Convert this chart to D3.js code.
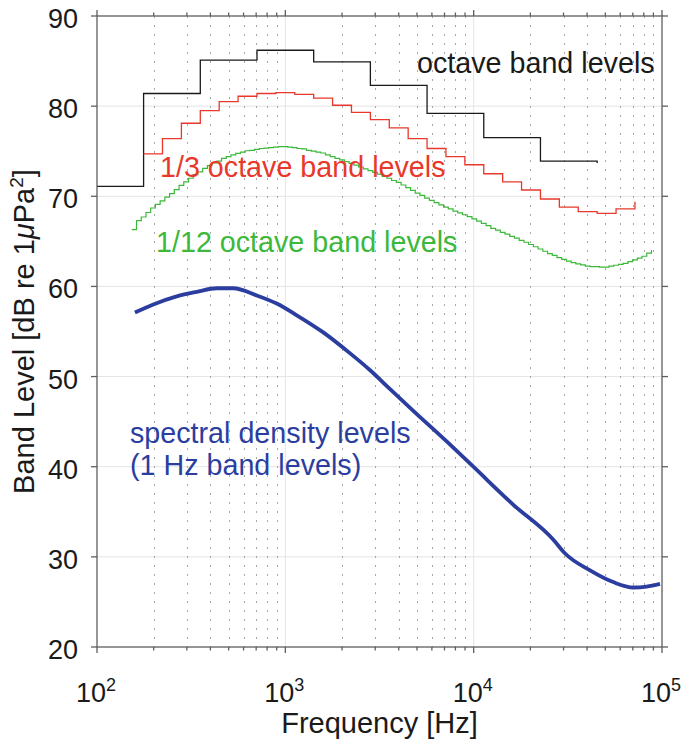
<!DOCTYPE html>
<html>
<head>
<meta charset="utf-8">
<script src="https://cdn.jsdelivr.net/npm/d3@7"></script>
<style>
  body { margin: 0; background: #fff; }
  svg { display: block; }
  text { font-family: "Liberation Sans", Arial, Helvetica, sans-serif; }
</style>
</head>
<body>
<svg id="chart" width="685" height="744"></svg>
<script>
// octave bands: nominal centre frequency (Hz) and band level (dB)
const octaveCenters = [125, 250, 500, 1000, 2000, 4000, 8000, 16000, 31500, 63000];
const octaveLevels = [71.1, 81.4, 85.1, 86.2, 84.9, 82.3, 79.2, 76.5, 73.9, 73.7];

// 1/3 octave bands
const thirdCenters = [200, 250, 315, 400, 500, 630, 800, 1000, 1250, 1600, 2000, 2500, 3150,
  4000, 5000, 6300, 8000, 10000, 12500, 16000, 20000, 25000, 31500, 40000, 50000, 63000, 80000];
const thirdLevels = [74.7, 76.4, 78.1, 79.5, 80.5, 81.1, 81.4, 81.5, 81.3, 80.9, 80.1, 79.3, 78.5,
  77.6, 76.4, 75.3, 74.4, 73.5, 72.5, 71.6, 70.7, 69.7, 68.8, 68.3, 68.1, 68.6, 69.4];

// 1/12 octave bands, numbered from 1 kHz (band -32 is the first one)
const twelfthFirstBand = -32;
const twelfthLevels = [
  66.3, 67.3, 67.7, 68.2, 68.7, 69.1, 69.5, 69.9, 70.3, 70.75,
  71.2, 71.6, 72.0, 72.4, 72.7, 73.1, 73.4, 73.7, 73.9, 74.2,
  74.4, 74.6, 74.75, 74.9, 75.05, 75.1, 75.2, 75.3, 75.35, 75.4,
  75.45, 75.5, 75.5, 75.45, 75.4, 75.3, 75.25, 75.1, 75.0, 74.9,
  74.8, 74.6, 74.4, 74.2, 74.05, 73.85, 73.65, 73.45, 73.25, 73.05,
  72.85, 72.65, 72.45, 72.2, 72.0, 71.75, 71.55, 71.25, 70.95, 70.65,
  70.35, 70.1, 69.8, 69.55, 69.3, 69.05, 68.8, 68.6, 68.35, 68.15,
  67.95, 67.75, 67.5, 67.25, 67.0, 66.75, 66.45, 66.25, 66.0, 65.8,
  65.55, 65.35, 65.1, 64.9, 64.65, 64.4, 64.15, 63.9, 63.65, 63.45,
  63.2, 63.0, 62.8, 62.65, 62.5, 62.4, 62.25, 62.2, 62.2, 62.15,
  62.15, 62.25, 62.35, 62.45, 62.55, 62.75, 62.95, 63.15, 63.35, 63.7,
  64.05];

// spectral density (1 Hz band) levels
const spectrumFreqs = [159, 199, 265, 338, 432, 529, 705, 900, 1150, 1590, 2200, 2820, 3600,
  4780, 7190, 9960, 16200, 26500, 30500, 41500, 55100, 70400, 83000, 97600];
const spectrumLevels = [57.1, 58.0, 58.9, 59.4, 59.8, 59.8, 59.0, 58.1, 56.8, 54.9, 52.6, 50.7, 48.6,
  46.2, 42.8, 40.0, 35.8, 31.9, 30.4, 28.5, 27.2, 26.6, 26.7, 27.0];

const yTicks = [20, 30, 40, 50, 60, 70, 80, 90];
const xMajor = [100, 1000, 10000, 100000];

const mLeft = 97, mRight = 662, mTop = 16, mBottom = 647;

const svg = d3.select("#chart");

const x = d3.scaleLog().domain([100, 100000]).range([mLeft, mRight]);
const y = d3.scaleLinear().domain([20, 90]).range([mBottom, mTop]);

const xMinor = x.ticks().filter(d => !xMajor.includes(d));

// band edges from nominal centre and fraction of octave
function edges(center, n) {
  const b = Math.round(n * Math.log2(center / 1000));
  return edgesIdx(b, n);
}
function edgesIdx(b, n) {
  return [1000 * Math.pow(2, (b - 0.5) / n), 1000 * Math.pow(2, (b + 0.5) / n)];
}
// MATLAB-like stairs: last band only gets its riser
function stairs(bands) {
  const pts = [];
  bands.forEach((b, i) => {
    pts.push([b.lo, b.v]);
    if (i < bands.length - 1) pts.push([b.hi, b.v]);
  });
  return pts;
}

const octaveBands = octaveCenters.map((c, i) => { const e = edges(c, 1); return {lo: e[0], hi: e[1], v: octaveLevels[i]}; });
const thirdBands = thirdCenters.map((c, i) => { const e = edges(c, 3); return {lo: e[0], hi: e[1], v: thirdLevels[i]}; });
const twelfthBands = twelfthLevels.map((v, i) => { const e = edgesIdx(twelfthFirstBand + i, 12); return {lo: e[0], hi: e[1], v: v}; });

// grid
const grid = svg.append("g");
grid.selectAll("line.ymaj")
  .data(yTicks.filter(d => d > 20 && d < 90)).enter()
  .append("line")
  .attr("x1", mLeft).attr("x2", mRight)
  .attr("y1", d => y(d)).attr("y2", d => y(d))
  .attr("stroke", "#e4e4e4").attr("stroke-width", 1);
grid.selectAll("line.xmaj")
  .data(xMajor.slice(1, -1)).enter()
  .append("line")
  .attr("x1", d => x(d)).attr("x2", d => x(d))
  .attr("y1", mTop).attr("y2", mBottom)
  .attr("stroke", "#e4e4e4").attr("stroke-width", 1);
grid.selectAll("line.xmin")
  .data(xMinor).enter()
  .append("line")
  .attr("x1", d => Math.round(x(d)) + 0.5).attr("x2", d => Math.round(x(d)) + 0.5)
  .attr("y1", mTop).attr("y2", mBottom)
  .attr("stroke", "#a8a8a8").attr("stroke-width", 1)
  .attr("stroke-dasharray", "2,7");

svg.append("clipPath").attr("id", "plotclip")
  .append("rect").attr("x", mLeft).attr("y", mTop).attr("width", mRight - mLeft).attr("height", mBottom - mTop);

const line = d3.line().x(d => x(d[0])).y(d => y(d[1]));
const plot = svg.append("g").attr("clip-path", "url(#plotclip)");

plot.append("path").attr("d", line(stairs(octaveBands)))
  .attr("fill", "none").attr("stroke", "#1a1a1a").attr("stroke-width", 1.3);
plot.append("path").attr("d", line(stairs(thirdBands)))
  .attr("fill", "none").attr("stroke", "#e8382b").attr("stroke-width", 1.3);
plot.append("path").attr("d", line(stairs(twelfthBands)))
  .attr("fill", "none").attr("stroke", "#3cb83a").attr("stroke-width", 1.2);

const specLine = d3.line()
  .x((d, i) => x(spectrumFreqs[i]))
  .y(d => y(d))
  .curve(d3.curveMonotoneX);
plot.append("path").attr("d", specLine(spectrumLevels))
  .attr("fill", "none").attr("stroke", "#2b3e9f").attr("stroke-width", 3.8)
  .attr("stroke-linejoin", "round");

// axes frame and ticks
const axisColor = "#5f5f5f";
svg.append("rect").attr("x", mLeft).attr("y", mTop).attr("width", mRight - mLeft).attr("height", mBottom - mTop)
  .attr("fill", "none").attr("stroke", axisColor).attr("stroke-width", 1.3);

const ticks = svg.append("g").attr("stroke", axisColor).attr("stroke-width", 1.3);
yTicks.forEach(d => {
  ticks.append("line").attr("x1", mLeft - 6).attr("x2", mLeft).attr("y1", y(d)).attr("y2", y(d));
  ticks.append("line").attr("x1", mRight).attr("x2", mRight + 6).attr("y1", y(d)).attr("y2", y(d));
});
xMajor.forEach(d => {
  ticks.append("line").attr("x1", x(d)).attr("x2", x(d)).attr("y1", mBottom).attr("y2", mBottom + 6);
  ticks.append("line").attr("x1", x(d)).attr("x2", x(d)).attr("y1", mTop - 6).attr("y2", mTop);
});
xMinor.forEach(d => {
  ticks.append("line").attr("x1", x(d)).attr("x2", x(d)).attr("y1", mBottom).attr("y2", mBottom + 3.5);
  ticks.append("line").attr("x1", x(d)).attr("x2", x(d)).attr("y1", mTop - 3.5).attr("y2", mTop);
});

// tick labels
svg.append("g").selectAll("text")
  .data(yTicks).enter()
  .append("text")
  .attr("x", mLeft - 19).attr("y", d => y(d) + 12)
  .attr("text-anchor", "end")
  .attr("font-size", 27).attr("fill", "#1a1a1a")
  .text(d => d);

const xl = svg.append("g").selectAll("text")
  .data(xMajor).enter()
  .append("text")
  .attr("x", d => x(d) - 1).attr("y", 702)
  .attr("text-anchor", "middle")
  .attr("font-size", 27).attr("fill", "#1a1a1a");
xl.append("tspan").text("10");
xl.append("tspan").attr("font-size", 18).attr("dy", -11).text(d => Math.round(Math.log10(d)));

// axis labels
svg.append("text")
  .attr("x", (mLeft + mRight) / 2).attr("y", 733)
  .attr("text-anchor", "middle").attr("font-size", 29).attr("fill", "#1a1a1a")
  .text("Frequency [Hz]");

const yl = svg.append("text")
  .attr("transform", `translate(34,${(mTop + mBottom) / 2}) rotate(-90)`)
  .attr("text-anchor", "middle").attr("font-size", 29).attr("fill", "#1a1a1a");
yl.append("tspan").text("Band Level [dB re 1");
yl.append("tspan").attr("font-style", "italic").text("\u03bc");
yl.append("tspan").text("Pa");
yl.append("tspan").attr("font-size", 19).attr("dy", -11).text("2");
yl.append("tspan").attr("dy", 11).text("]");

// curve annotations
const notes = [
  {t: "octave band levels", x: 417, y: 73, c: "#1a1a1a"},
  {t: "1/3 octave band levels", x: 160, y: 177, c: "#e8382b"},
  {t: "1/12 octave band levels", x: 156, y: 252, c: "#3cb83a"},
  {t: "spectral density levels", x: 130, y: 443, c: "#2b3e9f"},
  {t: "(1 Hz band levels)", x: 130, y: 475, c: "#2b3e9f"}
];
svg.append("g").selectAll("text")
  .data(notes).enter()
  .append("text")
  .attr("x", d => d.x).attr("y", d => d.y)
  .attr("font-size", 28.7).attr("fill", d => d.c)
  .text(d => d.t);
</script>
</body>
</html>
